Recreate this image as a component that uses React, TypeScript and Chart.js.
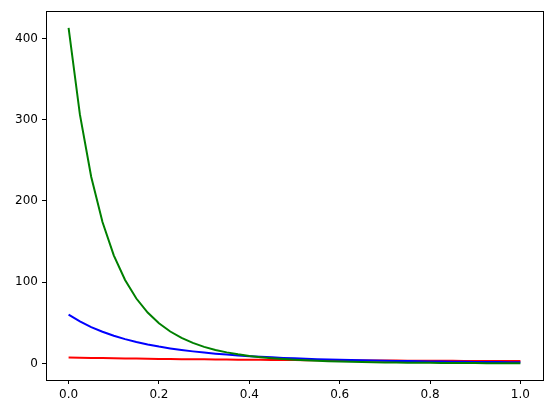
import React, { useEffect, useRef } from "react";
import { Chart, registerables } from "chart.js";

Chart.register(...registerables);

const xValues = [
  0, 0.025, 0.05, 0.075, 0.1, 0.125, 0.15, 0.175, 0.2, 0.225, 0.25, 0.275, 0.3, 0.325,
  0.35, 0.375, 0.4, 0.425, 0.45, 0.475, 0.5, 0.525, 0.55, 0.575, 0.6, 0.625, 0.65,
  0.675, 0.7, 0.725, 0.75, 0.775, 0.8, 0.825, 0.85, 0.875, 0.9, 0.925, 0.95, 0.975, 1.0,
];

const redValues = [
  7.3, 7.033, 6.784, 6.553, 6.337, 6.134, 5.945, 5.766, 5.598, 5.44, 5.29, 5.148, 5.014,
  4.886, 4.765, 4.65, 4.54, 4.435, 4.335, 4.239, 4.148, 4.06, 3.976, 3.895, 3.818, 3.744,
  3.672, 3.603, 3.537, 3.473, 3.411, 3.352, 3.294, 3.239, 3.185, 3.133, 3.083, 3.034,
  2.987, 2.941, 2.897,
];

const blueValues = [
  60, 51.68, 44.76, 38.96, 34.07, 29.92, 26.38, 23.36, 20.75, 18.5, 16.54, 14.84, 13.35,
  12.04, 10.89, 9.875, 8.974, 8.174, 7.46, 6.824, 6.253, 5.741, 5.28, 4.865, 4.489, 4.15,
  3.841, 3.561, 3.306, 3.073, 2.861, 2.666, 2.488, 2.324, 2.174, 2.036, 1.908, 1.79,
  1.682, 1.581, 1.488,
];

const greenValues = [
  413, 306.5, 229.9, 174.1, 133.1, 102.7, 79.9, 62.6, 49.4, 39.3, 31.4, 25.3, 20.4, 16.6,
  13.6, 11.19, 9.24, 7.66, 6.39, 5.34, 4.49, 3.78, 3.2, 2.715, 2.312, 1.975, 1.693, 1.455,
  1.254, 1.084, 0.939, 0.816, 0.71, 0.62, 0.542, 0.475, 0.418, 0.368, 0.324, 0.287, 0.254,
];

const xTicks = [0, 0.2, 0.4, 0.6, 0.8, 1.0];
const xTickLabels = ["0.0", "0.2", "0.4", "0.6", "0.8", "1.0"];
const yTicks = [0, 100, 200, 300, 400];
const yTickLabels = ["0", "100", "200", "300", "400"];

const toPoints = (ys: number[]) => ys.map((y, i) => ({ x: xValues[i], y }));

const frame = {
  id: "frame",
  afterDraw(chart: any) {
    const { ctx, chartArea } = chart;
    ctx.save();
    ctx.strokeStyle = "#000";
    ctx.lineWidth = 1;
    ctx.strokeRect(
      Math.round(chartArea.left) + 0.5,
      Math.round(chartArea.top) + 0.5,
      Math.round(chartArea.right - chartArea.left),
      Math.round(chartArea.bottom - chartArea.top)
    );
    ctx.restore();
  },
};

export default function App() {
  const ref = useRef<HTMLCanvasElement | null>(null);

  useEffect(() => {
    if (!ref.current) return;
    const font = { family: "DejaVu Sans", size: 12 };
    const chart = new Chart(ref.current, {
      type: "line",
      data: {
        datasets: [
          { data: toPoints(redValues), borderColor: "#ff0000", borderWidth: 2, pointRadius: 0, order: 3 },
          { data: toPoints(blueValues), borderColor: "#0000ff", borderWidth: 2, pointRadius: 0, order: 2 },
          { data: toPoints(greenValues), borderColor: "#008000", borderWidth: 2, pointRadius: 0, order: 1 },
        ],
      },
      options: {
        animation: false,
        responsive: false,
        maintainAspectRatio: false,
        layout: { padding: { top: 10, right: 9, left: 0, bottom: 0 } },
        plugins: { legend: { display: false }, tooltip: { enabled: false } },
        scales: {
          x: {
            type: "linear",
            min: -0.05,
            max: 1.05,
            afterBuildTicks: (s: any) => {
              s.ticks = xTicks.map((v) => ({ value: v }));
            },
            afterFit: (s: any) => {
              s.height = 33;
            },
            ticks: {
              color: "#000",
              font,
              padding: 4,
              maxRotation: 0,
              autoSkip: false,
              callback: (v: any) => {
                const i = xTicks.findIndex((t) => Math.abs(t - v) < 1e-9);
                return i >= 0 ? xTickLabels[i] : "";
              },
            },
            grid: { drawOnChartArea: false, drawTicks: true, tickLength: 4, tickColor: "#000" },
            border: { display: true, color: "#000" },
          },
          y: {
            type: "linear",
            min: -20.4,
            max: 433.6,
            afterBuildTicks: (s: any) => {
              s.ticks = yTicks.map((v) => ({ value: v }));
            },
            afterFit: (s: any) => {
              s.width = 46;
            },
            ticks: {
              color: "#000",
              font,
              padding: 4,
              autoSkip: false,
              callback: (v: any) => {
                const i = yTicks.findIndex((t) => Math.abs(t - v) < 1e-9);
                return i >= 0 ? yTickLabels[i] : "";
              },
            },
            grid: { drawOnChartArea: false, drawTicks: true, tickLength: 4, tickColor: "#000" },
            border: { display: true, color: "#000" },
          },
        },
      },
      plugins: [frame],
    });
    return () => chart.destroy();
  }, []);

  return (
    <div style={{ position: "fixed", left: 0, top: 0, width: 552, height: 413, background: "#fff" }}>
      <canvas ref={ref} width={552} height={413} style={{ display: "block" }} />
    </div>
  );
}
